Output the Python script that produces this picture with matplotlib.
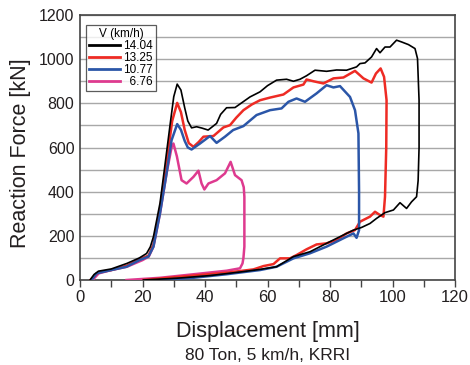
import matplotlib
matplotlib.use("Agg")
import matplotlib.pyplot as plt
from matplotlib.ticker import MultipleLocator

plt.rcParams['font.family'] = ['Liberation Sans', 'DejaVu Sans']

labels = ["14.04", "13.25", "10.77", "6.76"]

black_x = [3.2,4.5,5.9,10,15,19,21.3,22.5,23.5,25.6,27,28.8,30,31.1,32.3,33.5,34.5,35.7,37.3,39,41,43.7,45,46.9,49.6,52,54.4,57.6,60,62.9,66.1,68.3,70.4,72.5,75.2,78.9,82.1,85.3,88.5,89.6,91.2,93.3,94.9,96,97.6,99.2,101.3,102.9,105.1,107.2,108,108.5,108.5,108.2,107.7,106.1,104.5,102.4,100.3,97.6,94.9,92.8,90.1,87.5,84.3,78.9,73.6,68.3,62.9,57.6,52.3,41.6,30.9,20.3]
black_y = [0,25,40,50,75,100,120,150,196,348,500,700,830,887,860,780,720,689,694,688,679,709,750,780,781,805,829,852,880,905,909,900,909,925,950,945,951,950,965,980,983,1010,1048,1029,1055,1055,1086,1078,1066,1048,1003,814,600,450,377,354,324,350,317,305,279,256,238,226,204,166,128,106,60,48,38,20,8,0]

red_x = [3.4,5,6,10,15,20,21.9,23.5,25.6,27.7,29.5,31.1,32.3,33.5,34.8,36.3,38,39.5,42.7,45.9,48,50,52.3,55,57.6,60.8,65.1,68.3,71.5,72.5,74.7,77.9,81.1,84.3,88,90.7,93.3,94.7,96.2,97.3,98.1,98,97.6,97.1,96,94.4,92.8,89.6,88,85.3,82.1,78.9,75.7,72.5,69.3,67.2,64,61.9,58.7,55.5,46.9,36.3,20.3]
red_y = [0,25,35,45,65,100,110,160,320,530,720,802,760,680,620,603,625,649,652,691,701,735,769,795,814,826,840,872,885,908,900,890,913,917,947,913,894,935,958,920,814,600,377,287,294,309,287,264,226,211,181,166,161,139,113,98,98,72,63,48,33,20,0]

blue_x = [3.7,5.3,10,14.9,19,21.9,23.5,25.6,27.7,29.3,31.1,32.3,33.5,34.5,35.7,38.4,41.6,43.7,46.4,49,52.3,56.5,60.8,64.5,66.7,69.3,72,75.7,78.9,81.1,83.2,86.4,88,89.1,89.3,89.3,88.5,87.5,84.3,78.9,73.6,68.3,62.9,57.6,46.9,36.3,25.6]
blue_y = [0,30,45,60,90,106,151,302,483,633,706,680,630,600,591,618,652,621,649,679,697,747,769,777,807,822,807,845,882,872,878,829,769,664,400,226,191,211,189,151,121,98,60,45,26,10,0]

mag_x = [4,6,10,15,20,22,23.5,25.6,27.7,29.3,29.9,31,32.5,34.1,36.3,37.9,38.9,39.8,41.1,43.7,46.4,48.2,49.6,51.7,52.4,52.6,52.6,52.3,52,51.2,46.9,36.3,25.6,14.9]
mag_y = [0,30,45,60,90,106,151,302,483,600,618,560,452,437,467,495,437,410,437,452,483,535,475,452,420,377,151,100,75,53,42,26,10,0]

fig = plt.figure(figsize=(4.7, 3.65), dpi=100)
ax = fig.add_axes([80/470, 85/365, 375/470, 265/365])

tc = '#231f20'
ax.plot(mag_x, mag_y, color='#de3a8f', lw=1.8, label='  ' + labels[3], zorder=3)
ax.plot(red_x, red_y, color='#ee2b24', lw=1.8, label=labels[1], zorder=4)
ax.plot(blue_x, blue_y, color='#2b56a8', lw=1.8, label=labels[2], zorder=5)
ax.plot(black_x, black_y, color='black', lw=1.2, label=labels[0], zorder=6)

ax.set_xlim(0, 120)
ax.set_ylim(0, 1200)
ax.xaxis.set_major_locator(MultipleLocator(20))
ax.xaxis.set_minor_locator(MultipleLocator(10))
ax.yaxis.set_major_locator(MultipleLocator(200))
ax.yaxis.set_minor_locator(MultipleLocator(100))
ax.grid(True, axis='y', which='both', color='#a8a8a8', lw=1.0, zorder=0)
ax.set_axisbelow(True)
ax.tick_params(axis='x', which='both', direction='out', length=5, width=1, color='#444444',
               labelsize=12, labelcolor=tc, pad=2)
ax.tick_params(axis='y', which='both', length=0, labelsize=11.5, labelcolor=tc, pad=4)
for s in ax.spines.values():
    s.set_color('#444444')
    s.set_linewidth(1.2)

ax.set_xlabel('Displacement [mm]', fontsize=15.5, color=tc)
ax.xaxis.set_label_coords(0.5, -0.155)
ax.set_ylabel('Reaction Force [kN]', fontsize=15.5, color=tc)
ax.yaxis.set_label_coords(-0.13, 0.477)
fig.text(0.5 * (80 + 455) / 470, 5 / 365, '80 Ton, 5 km/h, KRRI', fontsize=12.5, color=tc,
         ha='center', va='baseline')

h, l = ax.get_legend_handles_labels()
order = [3, 1, 2, 0]
leg = ax.legend([h[i] for i in order], [l[i] for i in order], title='V (km/h)',
                loc='upper left', bbox_to_anchor=(0.016, 0.962), borderaxespad=0,
                fontsize=8.5, title_fontsize=8.5, frameon=True, fancybox=False,
                handlelength=2.6, handletextpad=0.3, labelspacing=0.0,
                borderpad=0.25)
leg.get_frame().set_edgecolor('#333333')
leg.get_frame().set_linewidth(0.9)
for line in leg.get_lines():
    line.set_linewidth(2.0)

fig.savefig('out.png', dpi=100)
